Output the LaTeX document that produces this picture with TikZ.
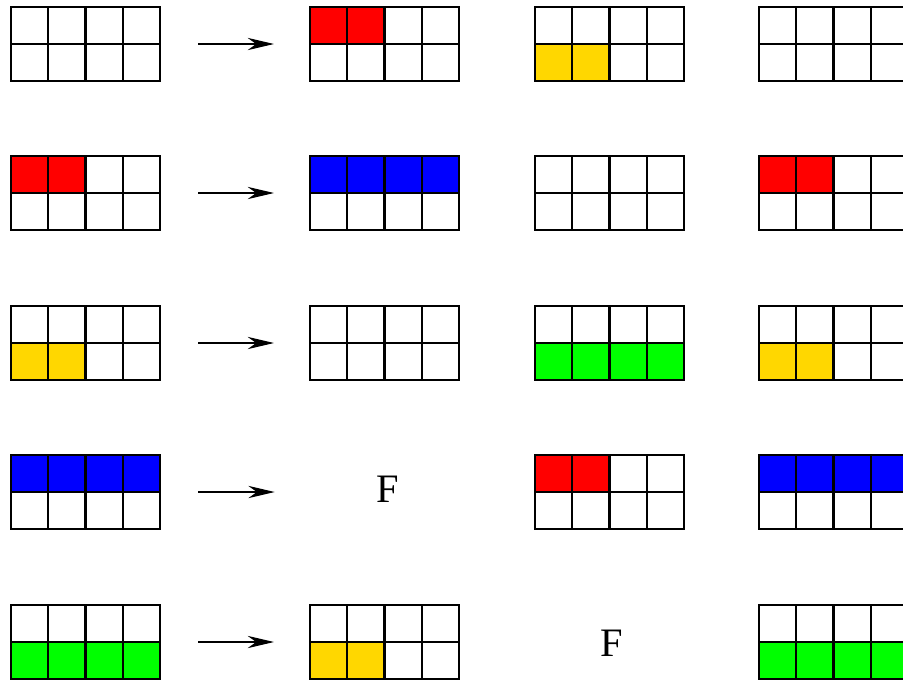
\documentclass[tikz,border=0pt]{standalone}
\usepackage{fontspec}
\setmainfont{Liberation Serif}
\usetikzlibrary{arrows.meta}
\definecolor{CellRed}{HTML}{FF0000}
\definecolor{CellBlue}{HTML}{0000FF}
\definecolor{CellGreen}{HTML}{00FF00}
\definecolor{CellGold}{HTML}{FFD700}
\tikzset{
    % Grid styles - 4x2 cells
    gridbox/.style={
        rectangle,
        draw=black,
        line width=1.2pt,
        minimum width=2.98cm,
        minimum height=1.48cm,
        inner sep=0pt
    },
    emptybox/.style={
        rectangle,
        minimum width=2.98cm,
        minimum height=1.48cm,
        inner sep=0pt,
        font=\fontsize{23}{28}\selectfont
    },
    gridline/.style={
        line width=1.2pt,
        draw=black
    },
    % Arrow style
    arrow/.style={
        -{Stealth[length=15pt,width=7pt]},
        line width=0.6pt,
        draw=black,
        shorten <=0.74cm,
        shorten >=0.7cm
    }
}
% #1 name, #2 left, #3 top, #4 top row colours, #5 bottom row colours
\newcommand{\cellgrid}[5]{%
    \foreach \c [count=\i from 0] in {#4}
        \fill[\c] (#2+\i*37.25,#3) rectangle ++(37.25,37);
    \foreach \c [count=\i from 0] in {#5}
        \fill[\c] (#2+\i*37.25,#3+37) rectangle ++(37.25,37);
    \foreach \k in {1,2,3}
        \draw[gridline] (#2+\k*37.25,#3) -- ++(0,74);
    \draw[gridline] (#2,#3+37) -- ++(149,0);
    \node[gridbox] (#1) at (#2+74.5,#3+37) {};
}

\begin{document}
\begin{tikzpicture}[x=0.02cm, y=-0.02cm]
    \useasboundingbox (0,0) rectangle (903,681);
    \clip (0,0) rectangle (903,681);

    % row 1
    \cellgrid{a1}{11}{7}{white,white,white,white}{white,white,white,white}
    \cellgrid{b1}{310}{7}{CellRed,CellRed,white,white}{white,white,white,white}
    \cellgrid{c1}{535}{7}{white,white,white,white}{CellGold,CellGold,white,white}
    \cellgrid{d1}{759}{7}{white,white,white,white}{white,white,white,white}

    % row 2
    \cellgrid{a2}{11}{156}{CellRed,CellRed,white,white}{white,white,white,white}
    \cellgrid{b2}{310}{156}{CellBlue,CellBlue,CellBlue,CellBlue}{white,white,white,white}
    \cellgrid{c2}{535}{156}{white,white,white,white}{white,white,white,white}
    \cellgrid{d2}{759}{156}{CellRed,CellRed,white,white}{white,white,white,white}

    % row 3
    \cellgrid{a3}{11}{306}{white,white,white,white}{CellGold,CellGold,white,white}
    \cellgrid{b3}{310}{306}{white,white,white,white}{white,white,white,white}
    \cellgrid{c3}{535}{306}{white,white,white,white}{CellGreen,CellGreen,CellGreen,CellGreen}
    \cellgrid{d3}{759}{306}{white,white,white,white}{CellGold,CellGold,white,white}

    % row 4
    \cellgrid{a4}{11}{455}{CellBlue,CellBlue,CellBlue,CellBlue}{white,white,white,white}
    \node[emptybox] (b4) at (387.5,489) {F};
    \cellgrid{c4}{535}{455}{CellRed,CellRed,white,white}{white,white,white,white}
    \cellgrid{d4}{759}{455}{CellBlue,CellBlue,CellBlue,CellBlue}{white,white,white,white}

    % row 5
    \cellgrid{a5}{11}{605}{white,white,white,white}{CellGreen,CellGreen,CellGreen,CellGreen}
    \cellgrid{b5}{310}{605}{white,white,white,white}{CellGold,CellGold,white,white}
    \node[emptybox] (c5) at (612,643) {F};
    \cellgrid{d5}{759}{605}{white,white,white,white}{CellGreen,CellGreen,CellGreen,CellGreen}

    \foreach \r in {1,2,3,5}
        \draw[arrow] (a\r) -- (b\r);
    \draw[arrow, shorten >=0.76cm] (a4) -- (a4 -| b4.west);
\end{tikzpicture}
\end{document}
